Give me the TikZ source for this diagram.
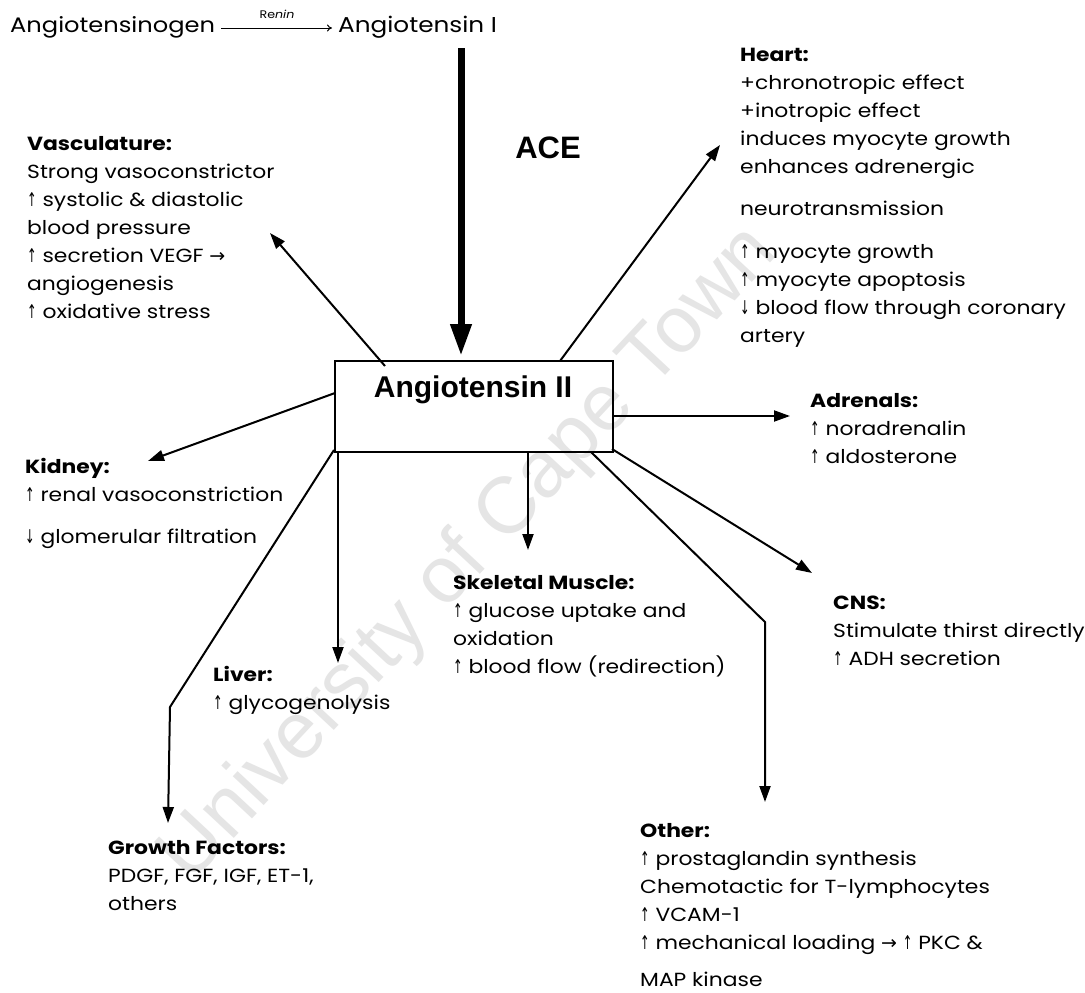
\documentclass[tikz,border=0pt]{standalone}
\usepackage{graphicx}
\usepackage{fontspec}
\setmainfont{Poppins}[FakeStretch=1.15]
\newfontfamily\arialf{Liberation Sans}
\newfontfamily\symf{DejaVu Sans}
\usetikzlibrary{arrows.meta,calc}
\newcommand{\upA}{\scalebox{0.6}[1]{\symf ↑}}
\newcommand{\dnA}{\scalebox{0.6}[1]{\symf ↓}}
\newcommand{\rtA}{{\symf →}}
\newcommand{\bodyf}{\fontsize{19}{28}\selectfont}
\tikzset{
  txt/.style={anchor=north west, align=left, inner sep=0pt, font=\bodyf},
  arr/.style={line width=2pt, -{Triangle[length=16pt,width=11pt]}},
  bigarr/.style={line width=7pt, -{Triangle[length=32pt,width=20pt]}},
  boxst/.style={draw, line width=2pt, minimum width=278pt, minimum height=91pt, inner sep=0pt},
}
\begin{document}
\begin{tikzpicture}[x=1pt,y=-1pt]
\useasboundingbox (0,0) rectangle (1085,993);
\fill[white] (0,0) rectangle (1085,993);
% watermark
\node[rotate=47, text=black!10, font=\arialf\fontsize{80}{80}\selectfont] (wm) at (470,555) {University of Cape Town};
% top line
\node[anchor=west, inner sep=0pt, font=\fontsize{21}{24}\selectfont] (agen) at (10,27) {Angiotensinogen};
\node[anchor=west, inner sep=0pt, font=\fontsize{21.5}{24}\selectfont] (ang1) at (338,27) {Angiotensin I};
\draw[line width=1pt, -{To[length=5pt,width=7pt]}] ($(agen.east)+(6,1)$) -- ($(ang1.west)+(-6,1)$);
\node[font=\fontsize{11}{11}\selectfont] (renin) at (277,14) {Re\textit{nin}};
% ACE
\node[font=\arialf\bfseries\fontsize{31}{31}\selectfont] (ace) at (548,148) {ACE};
% central box
\node[boxst] (ang2) at (474,406.5) {};
\node[font=\arialf\bfseries\fontsize{30}{30}\selectfont] (ang2t) at (473,390) {Angiotensin II};
\coordinate (bigtop) at (461,48);
\coordinate (bigtip) at (461,356);
\draw[bigarr] (bigtop) -- (bigtip);
% text blocks
\node[txt] (vas) at (27,136) {\textbf{Vasculature:}\\Strong vasoconstrictor\\\upA{} systolic \& diastolic\\blood pressure\\\upA{} secretion VEGF \rtA\\angiogenesis\\\upA{} oxidative stress};
\node[txt] (heart) at (740,48) {\textbf{Heart:}\\+chronotropic effect\\+inotropic effect\\induces myocyte growth\\enhances adrenergic\\[14pt]neurotransmission\\[15pt]\upA{} myocyte growth\\\upA{} myocyte apoptosis\\\dnA{} blood flow through coronary\\artery};
\node[txt] (adr) at (810,393) {\textbf{Adrenals:}\\\upA{} noradrenalin\\\upA{} aldosterone};
\node[txt] (kid) at (25,458) {\textbf{Kidney:}\\\upA{} renal vasoconstriction\\[14pt]\dnA{} glomerular filtration};
\node[txt] (skel) at (453,575) {\textbf{Skeletal Muscle:}\\\upA{} glucose uptake and\\oxidation\\\upA{} blood flow (redirection)};
\node[txt] (cns) at (833,596) {\textbf{CNS:}\\Stimulate thirst directly\\\upA{} ADH secretion};
\node[txt] (liver) at (213,666) {\textbf{Liver:}\\\upA{} glycogenolysis};
\node[txt] (growth) at (108,840) {\textbf{Growth Factors:}\\PDGF, FGF, IGF, ET-1,\\others};
\node[txt] (other) at (640,823) {\textbf{Other:}\\\upA{} prostaglandin synthesis\\Chemotactic for T-lymphocytes\\\upA{} VCAM-1\\\upA{} mechanical loading \rtA{} \upA{} PKC \&\\[9pt]MAP kinase};
% connector coordinates
\coordinate (vasS) at (385,366);   \coordinate (vasE) at (270,233);
\coordinate (heaS) at (560,361);   \coordinate (heaE) at (720,145);
\coordinate (adrS) at (613,416);   \coordinate (adrE) at (790,416);
\coordinate (kidS) at (335,393);   \coordinate (kidE) at (148,461);
\coordinate (skeS) at (528,452);   \coordinate (skeE) at (528,550);
\coordinate (cnsS) at (612,449);   \coordinate (cnsE) at (812,573);
\coordinate (livS) at (338,452);   \coordinate (livE) at (338,663);
\coordinate (groS) at (334,450);   \coordinate (groB) at (170,707);  \coordinate (groE) at (168,823);
\coordinate (othS) at (591,452);   \coordinate (othB) at (765,622);  \coordinate (othE) at (765,802);
\draw[arr] (vasS) -- (vasE);
\draw[arr] (heaS) -- (heaE);
\draw[arr] (adrS) -- (adrE);
\draw[arr] (kidS) -- (kidE);
\draw[arr] (skeS) -- (skeE);
\draw[arr] (cnsS) -- (cnsE);
\draw[arr] (livS) -- (livE);
\draw[arr] (groS) -- (groB) -- (groE);
\draw[arr] (othS) -- (othB) -- (othE);
\end{tikzpicture}
\end{document}
